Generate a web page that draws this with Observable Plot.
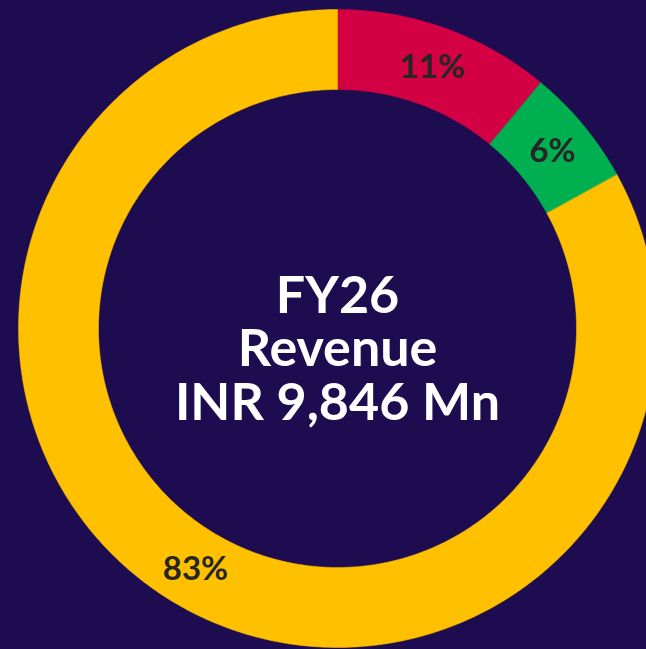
<!DOCTYPE html>
<html>
<head>
<meta charset="utf-8">
<script src="https://cdn.jsdelivr.net/npm/d3@7"></script>
<script src="https://cdn.jsdelivr.net/npm/@observablehq/plot@0.6"></script>
<style>
  html, body { margin: 0; padding: 0; background: #1d0d50; overflow: hidden; }
  #chart { width: 646px; height: 649px; }
</style>
</head>
<body>
<div id="chart"></div>
<script>
// ---- data ----
const segments = ["Segment A", "Segment B", "Segment C"];
const shares = [11, 6, 83];
const shareLabels = ["11%", "6%", "83%"];
const colors = ["#d40044", "#00b050", "#ffc000"];
const centerLines = ["FY26", "Revenue", "INR 9,846 Mn"];

// ---- layout ----
const W = 646, H = 649;
const CX = 337, CY = 328;   // pixel centre of the donut
const R_OUT = 319, R_IN = 239;

// build slice polygons from the data (angles clockwise from 12 o'clock)
const total = d3.sum(shares);
let acc = 0;
const slices = segments.map((name, i) => {
  const a0 = acc / total * 2 * Math.PI;
  acc += shares[i];
  const a1 = acc / total * 2 * Math.PI;
  return {name, a0, a1, label: shareLabels[i], color: colors[i]};
});

const poly = [];
for (const s of slices) {
  const n = Math.max(8, Math.ceil((s.a1 - s.a0) / (Math.PI / 360)));
  for (let k = 0; k <= n; k++) {
    const a = s.a0 + (s.a1 - s.a0) * k / n;
    poly.push({name: s.name, x: R_OUT * Math.sin(a), y: -R_OUT * Math.cos(a)});
  }
  for (let k = n; k >= 0; k--) {
    const a = s.a0 + (s.a1 - s.a0) * k / n;
    poly.push({name: s.name, x: R_IN * Math.sin(a), y: -R_IN * Math.cos(a)});
  }
}

const rMid = (R_OUT + R_IN) / 2;
const labels = slices.map(s => {
  const a = (s.a0 + s.a1) / 2;
  return {label: s.label, x: rMid * Math.sin(a), y: -rMid * Math.cos(a)};
});

const chart = Plot.plot({
  width: W,
  height: H,
  margin: 0,
  style: {background: "#1d0d50", overflow: "hidden"},
  x: {type: "linear", domain: [-CX, W - CX], range: [0, W], axis: null},
  y: {type: "linear", domain: [-CY, H - CY], range: [0, H], axis: null},
  color: {domain: segments, range: colors},
  marks: [
    Plot.line(poly, {
      x: "x", y: "y", z: "name",
      fill: "name", stroke: "name", strokeWidth: 0.5,
      curve: "linear-closed"
    }),
    Plot.text(labels, {
      x: "x", y: "y", text: "label",
      fill: "#262626",
      fontFamily: "Lato, 'Open Sans', sans-serif",
      fontWeight: "bold",
      fontSize: 33,
      dy: 1
    }),
    Plot.text([centerLines.join("\n")], {
      x: () => 0, y: () => 0,
      text: d => d,
      fill: "white",
      fontFamily: "Lato, 'Open Sans', sans-serif",
      fontWeight: "bold",
      fontSize: 52,
      lineHeight: 1.02,
      dy: 21
    })
  ]
});
document.getElementById("chart").appendChild(chart);
</script>
</body>
</html>
